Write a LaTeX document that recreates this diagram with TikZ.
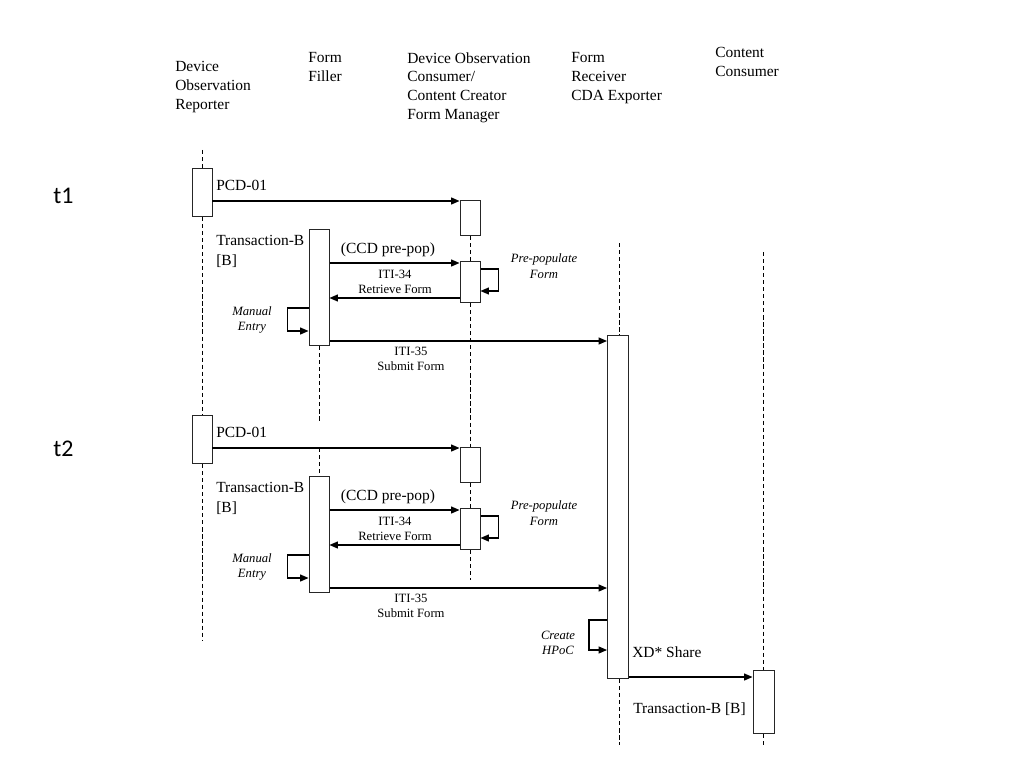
\documentclass[tikz,border=0pt]{standalone}
\usepackage{fontspec}
\setmainfont{Liberation Serif}
\newfontfamily\phasefont{Carlito}
\usetikzlibrary{arrows.meta}

\begin{document}
\begin{tikzpicture}[x=0.025cm, y=-0.025cm,
  actbox/.style={draw=black!85, fill=white, line width=0.7pt, minimum width=0.5cm, inner sep=0pt, anchor=north},
  life/.style={line width=0.6pt, dash pattern=on 3pt off 2pt},
  msg/.style={line width=0.8pt, -{Triangle[length=6pt,width=5pt]}},
  actor/.style={align=left, anchor=north west, inner sep=0pt, font=\fontsize{11}{13.5}\selectfont},
  lbl/.style={inner sep=0pt, font=\fontsize{11}{14}\selectfont},
  small/.style={align=center, inner sep=0pt, font=\fontsize{9}{11}\selectfont},
  note/.style={align=center, inner sep=0pt, font=\fontsize{9}{11}\selectfont\itshape}]
\useasboundingbox (0,0) rectangle (1024,768);

% actors
\node[actor] (dor) at (175,61) {Device\\Observation\\Reporter};
\node[actor] (ff) at (308,52) {Form\\Filler};
\node[actor] (doc) at (407,52) {Device Observation\\Consumer/\\Content Creator\\Form Manager};
\node[actor] (recv) at (571,52) {Form\\Receiver\\CDA Exporter};
\node[actor] (cons) at (715,47) {Content\\Consumer};

\node[actbox, minimum width=0.525cm, minimum height=8.575cm] (fr) at (618,335) {};
\node[actbox, minimum width=0.525cm, minimum height=1.575cm] (cc) at (763.5,670) {};

\foreach \i/\o/\ty in {1/0/196, 2/247/449} {
  \node[actbox, minimum height=1.2cm] (dor\i) at (202,168+\o) {};
  \node[actbox, minimum height=2.9cm] (ff\i) at (319,229+\o) {};
  \node[actbox, minimum height=0.875cm] (docA\i) at (470,200+\o) {};
  \node[actbox, minimum height=1.025cm] (docB\i) at (470,261+\o) {};

  \node[font=\phasefont\fontsize{17}{20}\selectfont, anchor=west, inner sep=0pt] (t\i) at (53,\ty) {t\i};
  \node[lbl, anchor=west] (pcd\i) at (216,185+\o) {PCD-01};
  \node[lbl, align=left, anchor=north west] (trb\i) at (216,235+\o) {Transaction-B\\{[B]}};
  \node[lbl] (ccd\i) at (388,250+\o) {(CCD pre-pop)};
  \node[small] (iti34\i) at (395,282+\o) {ITI-34\\Retrieve Form};
  \node[note] (prepop\i) at (544,266+\o) {Pre-populate\\Form};
  \node[note] (manual\i) at (252,320+\o) {Manual\\Entry};
  \node[small] (iti35\i) at (411,359+\o) {ITI-35\\Submit Form};

  \draw[msg] (dor\i.east |- 0,201+\o) -- (docA\i.west |- 0,201+\o);
  \draw[msg] (ff\i.east |- 0,263+\o) -- (docB\i.west |- 0,263+\o);
  \draw[msg] (docB\i.west |- 0,298+\o) -- (ff\i.east |- 0,298+\o);
  \draw[msg] (docB\i.east |- 0,269+\o) -- ++(18,0) -- ++(0,22) -- (docB\i.east |- 0,291+\o);
  \draw[msg] (ff\i.west |- 0,308+\o) -- ++(-21,0) -- ++(0,23) -- (ff\i.west |- 0,331+\o);
  \draw[msg] (ff\i.east |- 0,341+\o) -- (fr.west |- 0,341+\o);
}

\node[note] (hpoc) at (558,643) {Create\\HPoC};
\node[lbl, anchor=west] (xd) at (632,652) {XD* Share};
\node[lbl, anchor=west] (trbcc) at (633,709) {Transaction-B [B]};
\draw[msg] (fr.west |- 0,620) -- ++(-18,0) -- ++(0,30) -- (fr.west |- 0,650);
\draw[msg] (fr.east |- 0,677) -- (cc.west |- 0,677);

% lifelines
\coordinate (dorTop) at (202,150);
\coordinate (dorEnd) at (202,640);
\coordinate (ffEnd) at (319,421);
\coordinate (ffTop) at (319,448);
\coordinate (docEnd) at (470,580);
\coordinate (frTop) at (619,243);
\coordinate (frEnd) at (619,745);
\coordinate (ccTop) at (763,252);
\coordinate (ccEnd) at (763,745);
\draw[life] (dorTop) -- (dor1.north) (dor1.south) -- (dor2.north) (dor2.south) -- (dorEnd);
\draw[life] (ff1.south) -- (ffEnd) (ffTop) -- (ff2.north);
\draw[life] (docA1.south) -- (docB1.north) (docB1.south) -- (docA2.north)
  (docA2.south) -- (docB2.north) (docB2.south) -- (docEnd);
\draw[life] (frTop) -- (frTop |- fr.north) (frEnd |- fr.south) -- (frEnd);
\draw[life] (ccTop) -- (ccTop |- cc.north) (ccEnd |- cc.south) -- (ccEnd);
\end{tikzpicture}
\end{document}
